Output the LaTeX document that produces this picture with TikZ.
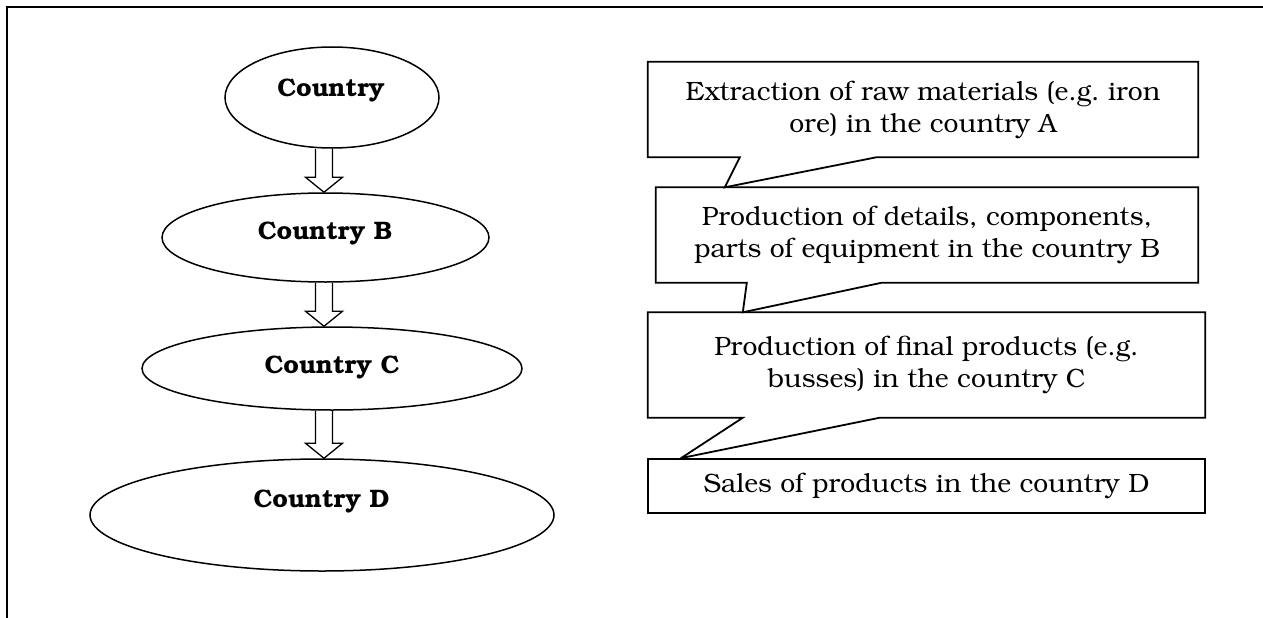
\documentclass[tikz,border=0pt]{standalone}
\usepackage[T1]{fontenc}
\usepackage{bookman}
\usetikzlibrary{shapes.geometric,calc}

\tikzset{
  land/.style={draw, ellipse, line width=1.5pt, inner sep=0pt},
  landname/.style={font=\fontsize{25.3}{30}\selectfont\bfseries, anchor=base, inner sep=0pt},
  stagebox/.style={rectangle, align=center, inner sep=0pt, font=\fontsize{26.5}{32}\selectfont},
  callout/.style={draw, line width=1.8pt, line join=miter},
  flow/.style={draw, line width=1.3pt, line join=miter},
  frame/.style={line width=2pt},
}

% hollow block arrow: #1 top of the shaft, #2 tip
\newcommand{\flowarrow}[2]{%
  \draw[flow] ($(#1)+(-8.5,0)$) -- ($(#2)+(-8.5,-15)$) -- ($(#2)+(-18.5,-15)$)
    -- (#2) -- ($(#2)+(18.5,-15)$) -- ($(#2)+(8.5,-15)$) -- ($(#1)+(8.5,0)$);
}

\begin{document}
\begin{tikzpicture}[x=1pt,y=-1pt]
  \useasboundingbox (0,0) rectangle (1263,618);
  \draw[frame] (1263,7) -- (7,7) -- (7,618);

  % countries
  \node[land, minimum width=214pt, minimum height=101pt] (cA) at (332,97.5) {};
  \node[land, minimum width=327pt, minimum height=89pt] (cB) at (325.5,237.5) {};
  \node[land, minimum width=380pt, minimum height=83pt] (cC) at (332,368.5) {};
  \node[land, minimum width=464pt, minimum height=112pt] (cD) at (322,515) {};
  \node[landname] (nA) at (331,96) {Country};
  \node[landname] (nB) at (325,239) {Country B};
  \node[landname] (nC) at (332,373) {Country C};
  \node[landname] (nD) at (321.5,507) {Country D};

  \coordinate (axis) at (324,0);
  \flowarrow{cA.south -| axis}{cB.north -| axis}
  \flowarrow{cB.south -| axis}{cC.north -| axis}
  \flowarrow{cC.south -| axis}{cD.north -| axis}

  % stages
  \node[stagebox, minimum width=550pt, minimum height=95pt] (bA) at (923,109.5)
    {Extraction of raw materials (e.g.\ iron\\ore) in the country A};
  \node[stagebox, minimum width=542pt, minimum height=95pt] (bB) at (927,235)
    {Production of details, components,\\parts of equipment in the country B};
  \node[stagebox, minimum width=557pt, minimum height=105pt] (bC) at (926.5,365)
    {Production of final products (e.g.\\busses) in the country C};
  \node[stagebox, draw, line width=1.8pt, minimum width=557pt, minimum height=54pt] (bD) at (926.5,486)
    {Sales of products in the country D};

  \coordinate (tA) at ($(bB.north west)+(69,0)$);
  \coordinate (tB) at ($(bC.north west)+(95,0)$);
  \coordinate (tC) at ($(bD.north west)+(34,0)$);
  \draw[callout] (bA.south west) -- (bA.north west) -- (bA.north east) -- (bA.south east)
    -- ($(bA.south west)+(229,0)$) -- (tA) -- ($(bA.south west)+(92,0)$) -- cycle;
  \draw[callout] (bB.south west) -- (bB.north west) -- (bB.north east) -- (bB.south east)
    -- ($(bB.south west)+(226,0)$) -- (tB) -- ($(bB.south west)+(91,0)$) -- cycle;
  \draw[callout] (bC.south west) -- (bC.north west) -- (bC.north east) -- (bC.south east)
    -- ($(bC.south west)+(232,0)$) -- (tC) -- ($(bC.south west)+(95,0)$) -- cycle;
\end{tikzpicture}
\end{document}
